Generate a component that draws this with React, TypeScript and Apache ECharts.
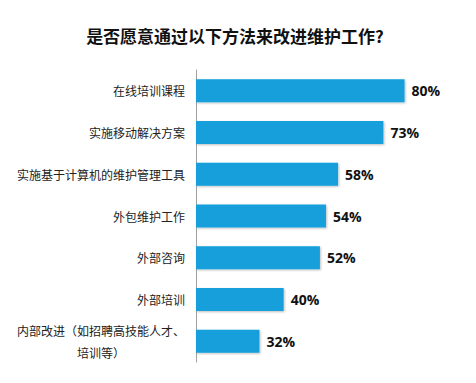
import React, { useEffect, useRef } from "react";
import * as echarts from "echarts";

const titleText = "是否愿意通过以下方法来改进维护工作?";
const categories = [
  "在线培训课程",
  "实施移动解决方案",
  "实施基于计算机的维护管理工具",
  "外包维护工作",
  "外部咨询",
  "外部培训",
  "内部改进（如招聘高技能人才、\n培训等）",
];
const values = [80, 73, 58, 54, 52, 40, 32];

export default function App() {
  const ref = useRef<HTMLDivElement>(null);
  useEffect(() => {
    if (!ref.current) return;
    const chart = echarts.init(ref.current, null, { renderer: "svg" });
    const font = "'Noto Sans CJK SC', 'Microsoft YaHei', sans-serif";
    chart.setOption({
      animation: false,
      backgroundColor: "#ffffff",
      title: {
        text: titleText,
        left: 230,
        textAlign: "center",
        top: 22,
        textStyle: { fontSize: 17, fontWeight: "bold", color: "#111", fontFamily: font },
      },
      grid: { left: 196, right: 11, top: 70, bottom: 21, containLabel: false },
      xAxis: {
        type: "value",
        min: 11,
        max: 100,
        show: false,
      },
      yAxis: {
        type: "category",
        inverse: true,
        data: categories,
        axisLine: { show: true, lineStyle: { color: "#a0a0a0", width: 1 } },
        axisTick: { show: false },
        axisLabel: {
          margin: 11,
          fontSize: 12,
          color: "#222",
          fontFamily: font,
          formatter: (v: string) => {
            if (v.indexOf("\n") >= 0) {
              const parts = v.split("\n");
              return "{a|" + parts[0] + "}\n{b|" + parts[1] + "}";
            }
            return v;
          },
          rich: {
            a: { fontSize: 12, color: "#222", fontFamily: font, lineHeight: 22, align: "center" },
            b: { fontSize: 12, color: "#222", fontFamily: font, lineHeight: 22, align: "center" },
          },
        },
      },
      series: [
        {
          type: "bar",
          data: values,
          barWidth: 23,
          itemStyle: {
            color: "#169fdb",
            shadowColor: "rgba(0,0,0,0.25)",
            shadowBlur: 2,
            shadowOffsetX: 1,
            shadowOffsetY: 1,
          },
          label: {
            show: true,
            position: "right",
            distance: 7,
            formatter: "{c}%",
            fontSize: 14,
            fontWeight: "bold",
            color: "#111",
            fontFamily: "'Open Sans', 'Noto Sans', sans-serif",
          },
        },
      ],
    });
    return () => chart.dispose();
  }, []);
  return <div ref={ref} style={{ width: 476, height: 383, position: "absolute", left: 0, top: 0 }} />;
}
